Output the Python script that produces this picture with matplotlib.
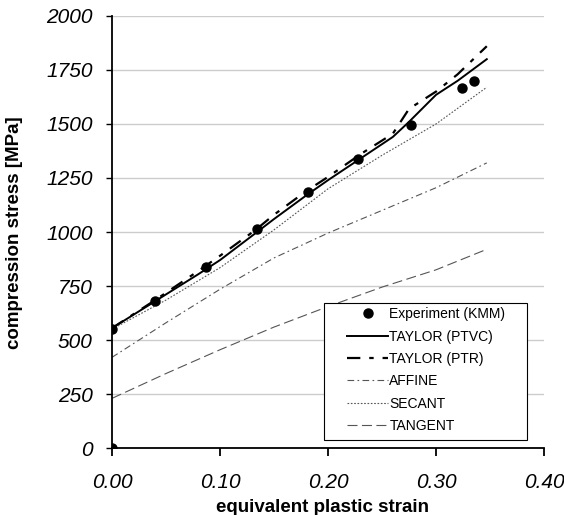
import matplotlib.pyplot as plt
from matplotlib.patches import Rectangle

plt.rcParams['font.family'] = ['Liberation Sans', 'DejaVu Sans']

# Experiment (KMM)
exp_strain = [0.0, 0.0, 0.040, 0.087, 0.134, 0.181, 0.228, 0.277, 0.324, 0.335]
exp_stress = [0, 550, 680, 840, 1015, 1183, 1337, 1497, 1665, 1697]

# model curves
strain = [0.0, 0.04, 0.08, 0.10, 0.133, 0.15, 0.18, 0.20, 0.23, 0.26, 0.275, 0.30, 0.32, 0.347]
taylor_ptvc = [555, 680, 805, 870, 995, 1060, 1170, 1240, 1340, 1440, 1510, 1635, 1700, 1800]
taylor_ptr = [555, 685, 820, 890, 1010, 1080, 1190, 1255, 1360, 1455, 1570, 1650, 1730, 1860]

strain2 = [0.0, 0.05, 0.10, 0.15, 0.20, 0.25, 0.30, 0.347]
affine = [420, 580, 735, 880, 995, 1100, 1205, 1320]
secant = [550, 685, 835, 1010, 1200, 1355, 1500, 1670]
tangent = [230, 345, 455, 560, 655, 745, 825, 920]

fig = plt.figure(figsize=(5.64, 5.15), dpi=100)
ax = fig.add_axes([0.1986, 0.130, 0.766, 0.839])

ax.plot(exp_strain, exp_stress, 'o', color='black', markersize=6.5, label='Experiment (KMM)', zorder=5)
ax.plot(strain, taylor_ptvc, '-', color='black', lw=1.4, label='TAYLOR (PTVC)')
ax.plot(strain, taylor_ptr, color='black', lw=1.6, dashes=[6, 4, 2, 4], label='TAYLOR (PTR)')
ax.plot(strain2, affine, color='#555555', lw=0.8, dashes=[6, 3, 1.5, 3], label='AFFINE')
ax.plot(strain2, secant, color='#555555', lw=0.8, dashes=[1.5, 1.5], label='SECANT')
ax.plot(strain2, tangent, color='#555555', lw=0.8, dashes=[9, 4], label='TANGENT')

ax.set_xlim(0, 0.40)
ax.set_ylim(0, 2000)
ax.set_xticks([0.0, 0.1, 0.2, 0.3, 0.4])
ax.set_xticklabels(['0.00', '0.10', '0.20', '0.30', '0.40'])
ax.set_yticks(range(0, 2001, 250))
ax.yaxis.grid(True, color='#cccccc', lw=1)
ax.set_axisbelow(True)
for s in ['top', 'right']:
    ax.spines[s].set_visible(False)
ax.spines['left'].set_linewidth(1.3)
ax.spines['bottom'].set_linewidth(1.3)
ax.tick_params(axis='x', direction='out', length=6, width=1.3, pad=12)
ax.tick_params(axis='y', direction='out', length=4, width=1, pad=10)
for lab in ax.get_xticklabels() + ax.get_yticklabels():
    lab.set_fontstyle('italic')
    lab.set_fontsize(15)

ax.set_xlabel('equivalent plastic strain', fontsize=13.5, fontweight='bold')
ax.xaxis.set_label_coords(0.487, -0.118)
ax.set_ylabel('compression stress [MPa]', fontsize=13.5, fontweight='bold')
ax.yaxis.set_label_coords(-0.206, 0.498)

# legend box drawn separately to get the wide side padding
ax.add_patch(Rectangle((0.491, 0.0185), 0.47, 0.317, transform=ax.transAxes,
                       facecolor='white', edgecolor='black', lw=0.8, zorder=6))
leg = ax.legend(loc='upper left', bbox_to_anchor=(0.544, 0.326), fontsize=10,
                frameon=False, handlelength=2.95, handletextpad=0.1,
                borderpad=0, labelspacing=0.6, borderaxespad=0)
leg.set_zorder(7)

fig.savefig('out.png', dpi=100)
